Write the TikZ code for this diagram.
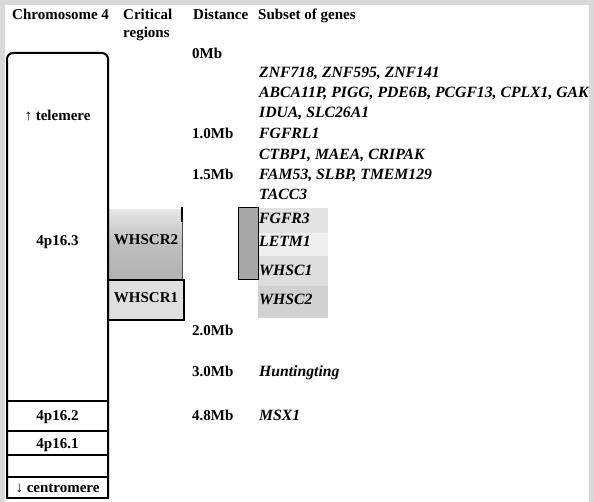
\documentclass[tikz,border=0pt]{standalone}
\usepackage{fontspec}
\setmainfont{Liberation Serif}
\usetikzlibrary{positioning}

\tikzset{
  lbl/.style={font=\fontsize{15}{18}\selectfont\bfseries, inner sep=0pt, anchor=base west},
  mid/.style={lbl, anchor=base},
  gene/.style={lbl, font=\fontsize{15.7}{18}\selectfont\bfseries\itshape},
  band/.style={draw, line width=2pt, line cap=rect},
}

\begin{document}
\begin{tikzpicture}[x=1pt, y=-1pt]
\useasboundingbox (0,0) rectangle (594,502);
% scan border
\draw[gray!30, line width=5pt] (2.5,502) -- (2.5,2.5) -- (591.5,2.5) -- (591.5,502);
% column titles
\node[lbl] (chrTitle) at (12,20) {Chromosome 4};
\node[lbl] (critTitle) at (123,20) {Critical};
\node[lbl] (critTitle2) at (123,38) {regions};
\node[lbl] (distTitle) at (193,20) {Distance};
\node[lbl] (geneTitle) at (258,20) {Subset of genes};
% critical regions
\shade[top color=gray!20, bottom color=gray!60, middle color=gray!52] (108,210) rectangle (182,280);
\draw[gray!60!black, thin] (182,212) -- (182,280);
\draw[line width=1.5pt] (182,207) -- (182,222);
\draw[band, fill=gray!25] (108,280) rectangle (184,320);
\node[mid] (whscr2) at (146,245) {WHSCR2};
\node[mid] (whscr1) at (146,303) {WHSCR1};
% chromosome bands
\draw[band, rounded corners=6pt] (7,498) -- (7,53) -- (108,53) -- (108,498);
\draw[band] (7,498) -- (108,498);
\foreach \y in {401,431,455,477} \draw[band] (7,\y) -- (108,\y);
\node[mid] (telemere) at (57.5,121) {↑ telemere};
\node[mid] (p163) at (57.5,246) {4p16.3};
\node[mid] (p162) at (57.5,420) {4p16.2};
\node[mid] (p161) at (57.5,448) {4p16.1};
\node[mid] (centromere) at (57.5,492) {↓ centromere};
% highlighted genes
\fill[gray!22] (258,208) rectangle (328,233);
\fill[gray!12] (258,233) rectangle (328,256);
\fill[gray!27] (258,256) rectangle (328,286);
\fill[gray!36] (258,286) rectangle (328,318);
\draw[line width=1pt, fill=gray!68] (238,208) rectangle (258,280);
% distances
\foreach \d/\y [count=\i] in {0Mb/59, 1.0Mb/139, 1.5Mb/180, 2.0Mb/336, 3.0Mb/377, 4.8Mb/420}
  \node[lbl] (dist\i) at (192,\y) {\d};
% genes
\foreach \g/\y [count=\i] in {{ZNF718, ZNF595, ZNF141}/78, {ABCA11P, PIGG, PDE6B, PCGF13, CPLX1, GAK}/98,
    {IDUA, SLC26A1}/118, FGFRL1/139, {CTBP1, MAEA, CRIPAK}/160, {FAM53, SLBP, TMEM129}/180,
    TACC3/200, FGFR3/224, LETM1/247, WHSC1/276, WHSC2/305, Huntingting/377, MSX1/420}
  \node[gene] (gene\i) at (259,\y) {\g};
\end{tikzpicture}
\end{document}
